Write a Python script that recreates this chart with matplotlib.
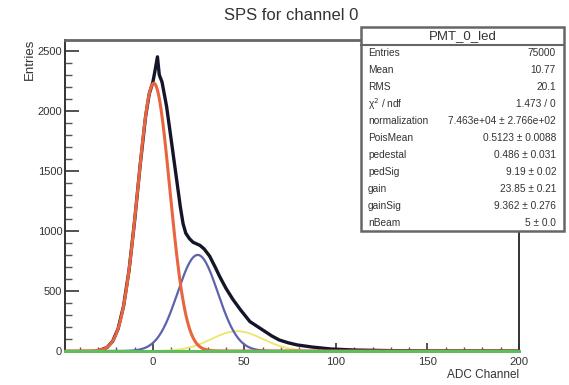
import numpy as np
import matplotlib
matplotlib.use("Agg")
import matplotlib.pyplot as plt
from matplotlib.ticker import MultipleLocator

plt.rcParams['font.family'] = ['Liberation Sans', 'DejaVu Sans']

# ---- data ----
data_x = [-30, -25, -22, -19, -16, -13, -10, -7, -4, -2, 0, 1, 2.5, 3.5, 5, 7.5,
          10, 13, 15, 16.5, 18, 20, 22, 25.7, 28, 31, 34, 36.6, 40, 43.7, 48, 53,
          60, 65, 69, 74, 79, 87, 97, 110, 130, 150, 200]
data_y = [0, 30, 80, 185, 375, 675, 1080, 1540, 1950, 2140, 2240, 2320, 2450,
          2300, 2240, 2036, 1760, 1425, 1200, 1060, 980, 935, 905, 880, 850, 790,
          700, 617, 520, 430, 340, 245, 175, 125, 92, 68, 50, 33, 17, 8, 3, 1, 0]

# fit components: (amplitude, mean, sigma)
ped_fit = (2230, 0.5, 8.75)
pe1_fit = (800, 24.5, 11.0)
pe2_fit = (165, 46.0, 14.0)

stats_title = "PMT_0_led"
stats_names = ["Entries", "Mean", "RMS", "\u03c7$^{2}$ / ndf", "normalization",
               "PoisMean", "pedestal", "pedSig", "gain", "gainSig", "nBeam"]
stats_values = ["75000", "10.77", "20.1", "1.473 / 0", "7.463e+04 \u00b1 2.766e+02",
                "0.5123 \u00b1 0.0088", "0.486 \u00b1 0.031", "9.19 \u00b1 0.02",
                "23.85 \u00b1 0.21", "9.362 \u00b1 0.276", "5 \u00b1 0.0"]

xlim = (-48, 200)
ylim = (0, 2590)


def gauss(x, p):
    a, m, s = p
    return a * np.exp(-0.5 * ((x - m) / s) ** 2)


fig = plt.figure(figsize=(5.69, 3.85), dpi=100)
ax = fig.add_axes([65 / 569, 1 - 351 / 385, (519 - 65) / 569, (351 - 40) / 385])

xs = np.linspace(xlim[0], xlim[1], 800)
ax.plot(data_x, data_y, color="#15152a", lw=2.4, zorder=3, solid_joinstyle="round")
ax.plot(xs, gauss(xs, pe2_fit), color="#ece66a", lw=1.3, zorder=4)
ax.plot(xs, gauss(xs, pe1_fit), color="#5d62ad", lw=1.6, zorder=4)
ax.plot(xs, gauss(xs, ped_fit), color="#e8653f", lw=2.2, zorder=5)
ax.plot([xlim[0], xlim[1]], [0, 0], color="#5cbf5c", lw=2.2, zorder=6, clip_on=False)

ax.set_xlim(*xlim)
ax.set_ylim(*ylim)
ax.xaxis.set_major_locator(MultipleLocator(50))
ax.xaxis.set_minor_locator(MultipleLocator(10))
ax.yaxis.set_major_locator(MultipleLocator(500))
ax.yaxis.set_minor_locator(MultipleLocator(100))
ax.tick_params(axis="x", which="major", direction="in", length=6, width=1.2,
               labelsize=8.2, pad=4, colors="#333333")
ax.tick_params(axis="x", which="minor", direction="in", length=3, width=1.0, colors="#555555")
ax.tick_params(axis="y", which="major", direction="in", length=10, width=1.2,
               labelsize=8.0, pad=2, colors="#333333")
ax.tick_params(axis="y", which="minor", direction="in", length=5, width=1.0, colors="#555555")
for sp in ax.spines.values():
    sp.set_color("#333333")
    sp.set_linewidth(1.4)
ax.spines["top"].set_color("#666666")
ax.spines["top"].set_linewidth(2)

fig.text(291 / 569, 1 - 15 / 385, "SPS for channel 0", ha="center", va="center",
         fontsize=12, color="#333333")
ax.set_xlabel("ADC Channel", fontsize=8.5, color="#333333", loc="right", labelpad=2)
ax.set_ylabel("Entries", fontsize=9.5, color="#333333", loc="top")
ax.yaxis.set_label_coords(-0.065, 1.005)

# stats box
bx0, bx1 = 361 / 569, 564 / 569
by_top, by_title, by_bot = 1 - 27 / 385, 1 - 45 / 385, 1 - 231 / 385
box = plt.Rectangle((bx0, by_bot), bx1 - bx0, by_top - by_bot, transform=fig.transFigure,
                    facecolor="white", edgecolor="#666666", lw=1.8, zorder=10)
fig.add_artist(box)
fig.add_artist(plt.Line2D([bx0, bx1], [by_title, by_title], transform=fig.transFigure,
                          color="#666666", lw=1.5, zorder=11))
fig.text((bx0 + bx1) / 2, (by_top + by_title) / 2, stats_title, ha="center", va="center",
         fontsize=9.5, color="#333333", zorder=12)
n = len(stats_names)
row_h = (by_title - by_bot) / n
for i, (nm, val) in enumerate(zip(stats_names, stats_values)):
    yy = by_title - (i + 0.5) * row_h
    fig.text(368 / 569, yy, nm, ha="left", va="center", fontsize=7.3, color="#333333", zorder=12)
    fig.text(556 / 569, yy, val, ha="right", va="center", fontsize=7.3, color="#333333", zorder=12)

fig.savefig("out.png", dpi=100, facecolor="white")
